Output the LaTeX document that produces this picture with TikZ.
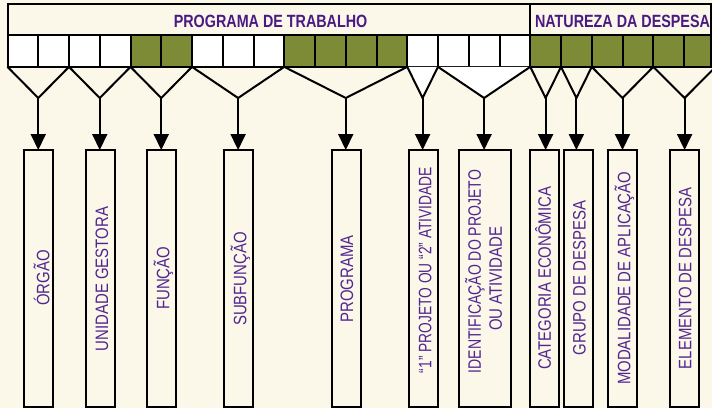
\documentclass[tikz,border=0pt]{standalone}
\usepackage{fontspec}
\setmainfont{Liberation Sans}
\usetikzlibrary{arrows.meta}
\definecolor{bg}{HTML}{FBF7E9}
\definecolor{olive}{HTML}{7E8B36}
\definecolor{inkbox}{HTML}{52268F}
\definecolor{inkhead}{HTML}{4A1A84}
\newcommand\narrowtxt[2][0.83]{\scalebox{#1}[1]{#2}}
\tikzset{
  frame/.style={draw=black, line width=2pt, fill=bg, inner sep=0pt, outer sep=0pt},
  cellbox/.style={draw=black, line width=2pt, inner sep=0pt, outer sep=0pt, minimum width=30.75pt, minimum height=31.7pt},
  bar/.style={draw=black, line width=2pt, fill=bg, inner sep=0pt, outer sep=0pt, minimum height=256.5pt, minimum width=29pt},
  headtext/.style={inner sep=0pt, text=inkhead, font=\bfseries\fontsize{17.7}{20}\selectfont, text height=12.7pt, text depth=0pt},
  lbl/.style={rotate=90, inner sep=0pt, text=inkbox, font=\fontsize{18}{20}\selectfont, text height=12.9pt, text depth=0pt},
  bracket/.style={draw=black, line width=2pt, line join=miter},
  arr/.style={draw=black, line width=2pt, -{Triangle[length=16pt,width=15pt]}}
}
\begin{document}
\begin{tikzpicture}[x=1pt,y=-1pt]
\fill[bg] (0,0) rectangle (712,408);
\useasboundingbox (0,0) rectangle (712,408);
\clip (0,0) rectangle (712,408);

% apex coordinates
\coordinate (a1) at (38.25,98);
\coordinate (a2) at (99.75,98);
\coordinate (a3) at (161.25,98);
\coordinate (a4) at (238.1,98);
\coordinate (a5) at (345.75,98);
\coordinate (a6) at (422.6,98);
\coordinate (a7) at (484.1,98);
\coordinate (a8) at (545.6,98);
\coordinate (a9) at (576.4,98);
\coordinate (a10) at (622.5,98);
\coordinate (a11) at (684.6,98);

% header
\node[frame, minimum width=522.75pt, minimum height=31pt] (h1) at (268.875,19.5) {};
\node[frame, minimum width=180.75pt, minimum height=31pt] (h2) at (620.625,19.5) {};
\node[headtext] (th1) at (270.6,21.3) {\narrowtxt[0.81]{PROGRAMA DE TRABALHO}};
\node[headtext] (th2) at (622.5,21.3) {\narrowtxt[0.81]{NATUREZA DA DESPESA}};

% cells
\foreach \k/\c in {0/white,1/white,2/white,3/white,4/olive,5/olive,6/white,7/white,8/white,9/olive,10/olive,11/olive,12/olive,13/white,14/white,15/white,16/white,17/olive,18/olive,19/olive,20/olive,21/olive}{
  \node[cellbox, fill=\c] (c\k) at ({22.875+30.75*\k},51) {};
}
\node[cellbox, fill=olive, minimum width=27pt] (c22) at (697.5,51) {};

% white filled brackets
\fill[white] (c13.south west) -- (a6) -- (c13.south east) -- cycle;
\fill[white] (c14.south west) -- (a7) -- (c16.south east) -- cycle;

% brackets
\draw[bracket] (c0.south west) -- (a1) -- (c1.south east);
\draw[bracket] (c2.south west) -- (a2) -- (c3.south east);
\draw[bracket] (c4.south west) -- (a3) -- (c5.south east);
\draw[bracket] (c6.south west) -- (a4) -- (c8.south east);
\draw[bracket] (c9.south west) -- (a5) -- (c12.south east);
\draw[bracket] (c13.south west) -- (a6) -- (c13.south east);
\draw[bracket] (c14.south west) -- (a7) -- (c16.south east);
\draw[bracket] (c17.south west) -- (a8) -- (c17.south east);
\draw[bracket] (c18.south west) -- (a9) -- (c18.south east);
\draw[bracket] (c19.south west) -- (a10) -- (c20.south east);
\draw[bracket] (c21.south west) -- (a11) -- (715.5,67);

% bars
\node[bar] (b1) at (38.65,278.25) {};
\node[bar] (b2) at (100.7,278.25) {};
\node[bar] (b3) at (161.35,278.25) {};
\node[bar] (b4) at (238.65,278.25) {};
\node[bar] (b5) at (346.5,278.25) {};
\node[bar] (b6) at (423.35,278.25) {};
\node[bar, minimum width=52pt] (b7) at (485.3,278.25) {};
\node[bar] (b8) at (544.2,278.25) {};
\node[bar] (b9) at (578.2,278.25) {};
\node[bar] (b10) at (622.5,278.25) {};
\node[bar] (b11) at (684.2,278.25) {};

% arrows
\foreach \i in {1,...,11}{
  \draw[arr] (a\i) -- (a\i |- b\i.north);
}

% labels
\node[lbl] (t1) at (43,278) {\narrowtxt{ÓRGÃO}};
\node[lbl] (t2) at (101.7,279) {\narrowtxt{UNIDADE GESTORA}};
\node[lbl] (t3) at (163,278.3) {\narrowtxt{FUNÇÃO}};
\node[lbl] (t4) at (240,279) {\narrowtxt{SUBFUNÇÃO}};
\node[lbl] (t5) at (346.7,279) {\narrowtxt{PROGRAMA}};
\node[lbl] (t6) at (425,270) {\narrowtxt[0.765]{“1” PROJETO OU “2” ATIVIDADE}};
\node[lbl] (t7a) at (474.5,271.7) {\narrowtxt[0.78]{IDENTIFICAÇÃO DO PROJETO}};
\node[lbl] (t7b) at (495.3,278.8) {\narrowtxt{OU ATIVIDADE}};
\node[lbl] (t8) at (544.5,278.3) {\narrowtxt{CATEGORIA ECONÔMICA}};
\node[lbl] (t9) at (579.2,278) {\narrowtxt{GRUPO DE DESPESA}};
\node[lbl] (t10) at (624,278.3) {\narrowtxt{MODALIDADE DE APLICAÇÃO}};
\node[lbl] (t11) at (685,278.3) {\narrowtxt{ELEMENTO DE DESPESA}};
\end{tikzpicture}
\end{document}
